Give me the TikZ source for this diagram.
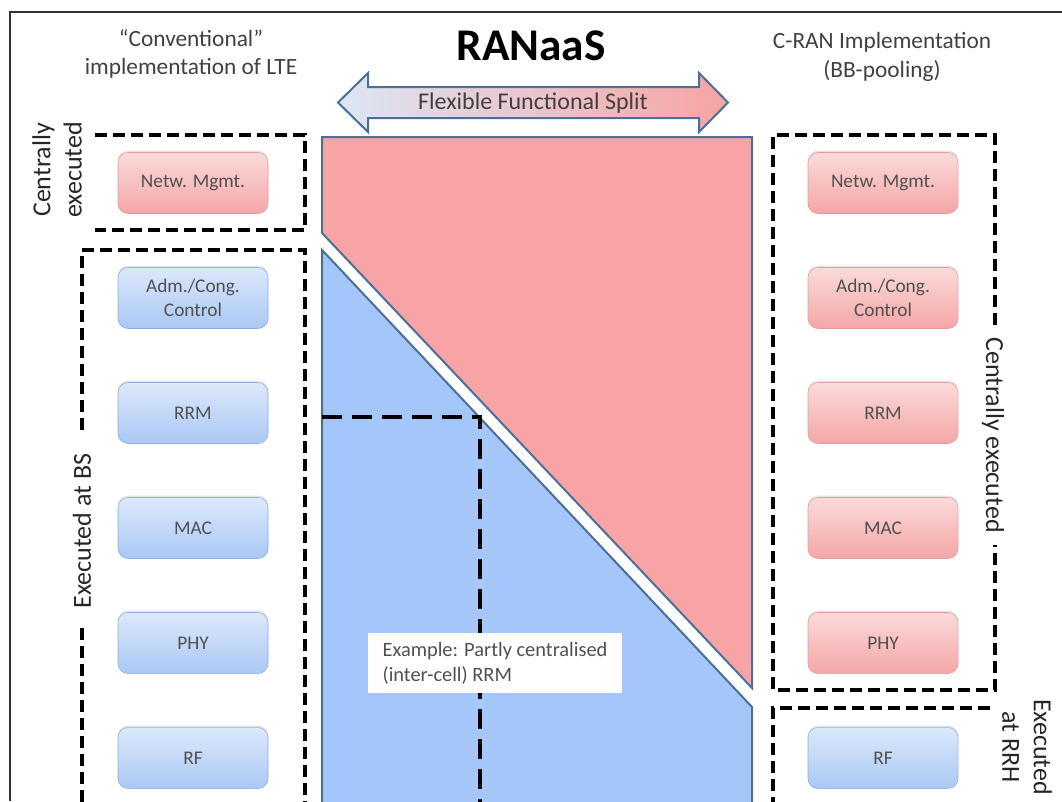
\documentclass[tikz,border=0pt]{standalone}
\usepackage{fontspec}
\setmainfont{Carlito}
\usetikzlibrary{shadows}

\definecolor{splitred}{HTML}{F8A4A4}
\definecolor{splitblue}{HTML}{A5C6F9}
\definecolor{splitedge}{HTML}{4A6F9A}
\definecolor{arrowleft}{HTML}{DCE6F5}
\definecolor{redtop}{HTML}{FBDADA}
\definecolor{redbot}{HTML}{F4A6A6}
\definecolor{rededge}{HTML}{E39C9C}
\definecolor{bluetop}{HTML}{DCE8FB}
\definecolor{bluebot}{HTML}{A9C8F4}
\definecolor{blueedge}{HTML}{8EAEDD}
\definecolor{blocktext}{HTML}{505050}
\definecolor{titletext}{HTML}{404040}

\tikzset{
  funcblock/.style={rounded corners=7.5pt, minimum width=112.5pt, minimum height=45.75pt,
    align=center, text=blocktext, font=\fontsize{14.5}{17.5}\selectfont,
    drop shadow={opacity=0.2, shadow xshift=0pt, shadow yshift=1.5pt}},
  centralblock/.style={funcblock, draw=rededge, top color=redtop, bottom color=redbot},
  localblock/.style={funcblock, draw=blueedge, top color=bluetop, bottom color=bluebot},
  execbox/.style={line width=2.4pt, dash pattern=on 9pt off 4.5pt},
  sidelabel/.style={align=center, text=black!85, font=\fontsize{19.5}{23.5}\selectfont},
  colhead/.style={align=center, text=titletext, font=\fontsize{17.5}{21.5}\selectfont},
}

\begin{document}
\begin{tikzpicture}[x=0.75pt,y=0.75pt,yscale=-1,xscale=1]
\clip (0,0) rectangle (1062,801);

%Frame
\draw [line width=1.5pt, color=black!80] (10,801) -- (10,12) -- (1062,12) ;

% Text Node
\node [colhead] (conv) at (191,54) {``Conventional''\\implementation of LTE};
% Text Node
\node [colhead] (cran) at (882,57) {C-RAN Implementation\\(BB-pooling)};
% Text Node
\node [font=\fontsize{34}{40}\selectfont\bfseries] (ranaas) at (531,46) {RANaaS};

%Shape: Double Arrow
\draw [line width=1.5pt, color=splitedge, left color=arrowleft, right color=splitred]
  (338,102.5) -- (368,73) -- (368,87) -- (699,87) -- (699,73) -- (728,102.5)
  -- (699,132) -- (699,118) -- (368,118) -- (368,132) -- cycle ;
% Text Node
\node [text=titletext, font=\fontsize{18}{21}\selectfont] (split) at (533,103) {Flexible Functional Split};

%Shape: Polygon (centralised part)
\draw [line width=1.5pt, color=splitedge, fill=splitred] (322,137) -- (752,137) -- (752,688) -- (322,233) -- cycle ;
%Shape: Polygon (local part)
\draw [line width=1.5pt, color=splitedge, fill=splitblue] (322,250) -- (752,707) -- (752,810) -- (322,810) -- cycle ;

%Straight Lines (example split)
\draw [line width=3.4pt, dash pattern=on 15pt off 7.5pt] (322,417) -- (480,417) -- (480,810) ;
% Text Node
\node [fill=white, minimum width=190.5pt, minimum height=45pt, align=left, text=blocktext,
  font=\fontsize{15.3}{18.7}\selectfont] (example) at (495,663) {Example: Partly centralised\\(inter-cell) RRM};

%Dashed boxes, left
\draw [execbox] (95,135) -- (305,135) -- (305,230) -- (95,230) ;
\draw [execbox] (82,430) -- (82,250) -- (305,250) -- (305,810) ;
\draw [execbox] (82,628) -- (82,810) ;
%Dashed boxes, right
\draw [execbox] (995,325) -- (995,135) -- (773,135) -- (773,690) -- (995,690) -- (995,545) ;
\draw [execbox] (990,708) -- (773,708) -- (773,810) ;

% Text Node
\node [sidelabel, rotate=90] (leftcentral) at (57,170) {Centrally\\executed};
% Text Node
\node [sidelabel, rotate=90] (leftbs) at (82,531) {Executed at BS};
% Text Node
\node [sidelabel, rotate=-90] (rightcentral) at (993,435) {Centrally executed};
% Text Node
\node [sidelabel, rotate=-90] (rightrrh) at (1027,747) {Executed\\at RRH};

%Blocks, conventional LTE
\node [centralblock] (lnm) at (193,183) {Netw. Mgmt.};
\node [localblock] (ladm) at (193,298) {Adm./Cong.\\Control};
\node [localblock] (lrrm) at (193,413) {RRM};
\node [localblock] (lmac) at (193,528) {MAC};
\node [localblock] (lphy) at (193,643) {PHY};
\node [localblock] (lrf) at (193,758) {RF};

%Blocks, C-RAN
\node [centralblock] (rnm) at (883,183) {Netw. Mgmt.};
\node [centralblock] (radm) at (883,298) {Adm./Cong.\\Control};
\node [centralblock] (rrrm) at (883,413) {RRM};
\node [centralblock] (rmac) at (883,528) {MAC};
\node [centralblock] (rphy) at (883,643) {PHY};
\node [localblock] (rrf) at (883,758) {RF};
\end{tikzpicture}
\end{document}
